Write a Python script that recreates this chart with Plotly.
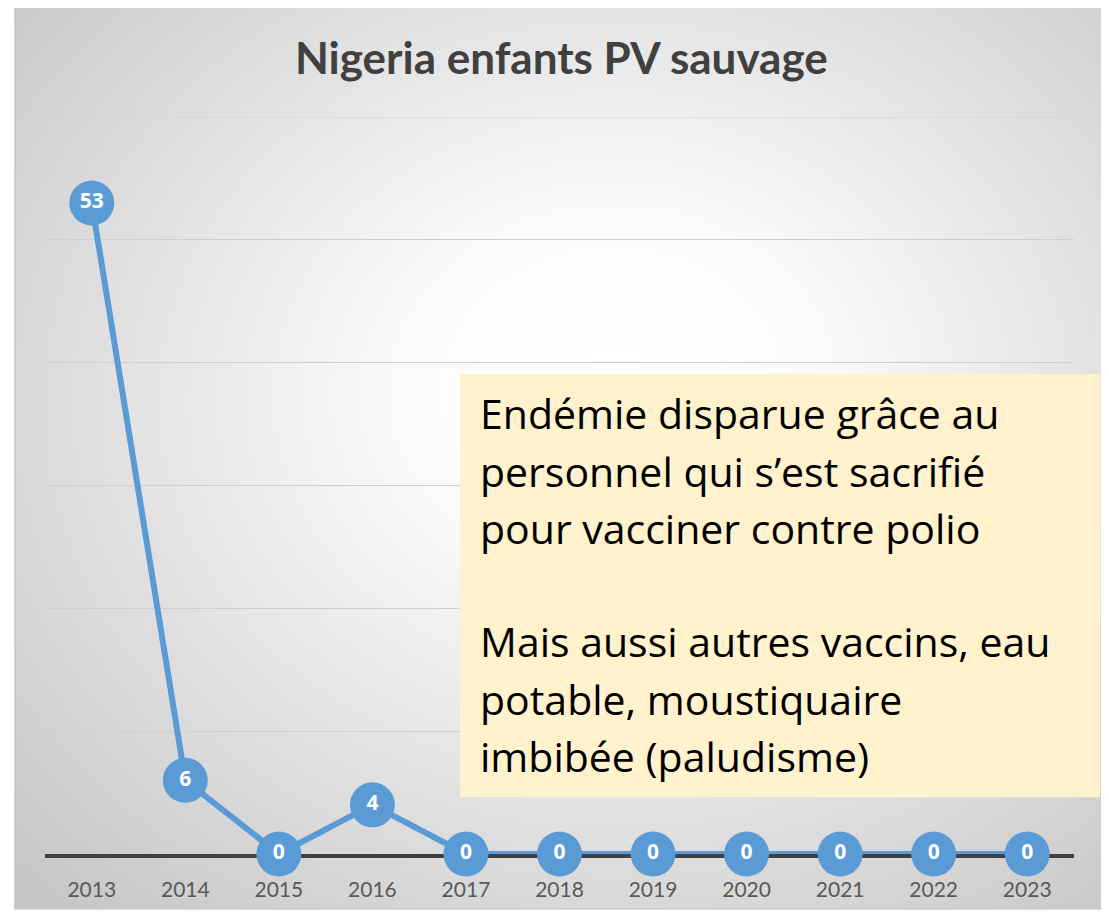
import base64
import plotly.graph_objects as go

years = ["2013", "2014", "2015", "2016", "2017", "2018", "2019", "2020", "2021", "2022", "2023"]
cases = [53, 6, 0, 4, 0, 0, 0, 0, 0, 0, 0]
title_text = "Nigeria enfants PV sauvage"
note_lines = [
    "Endémie disparue grâce au",
    "personnel qui s’est sacrifié",
    "pour vacciner contre polio",
    "Mais aussi autres vaccins, eau",
    "potable, moustiquaire",
    "imbibée (paludisme)",
]
note_baselines_px = [428, 486, 543, 657, 715, 772]

# page offset (browser body margin)
OX, OY = 8, 8
W, H = 1109 - OX, 913 - OY
L, R, T, B = 45 - OX, 1109 - 1074, 117 - OY, 913 - 857
PW = W - L - R
PH = H - T - B
Y_MAX = 60


def px_x(x):
    return (x - OX - L) / PW


def px_y(y):
    return (H - B - (y - OY)) / PH


svg = """<svg xmlns='http://www.w3.org/2000/svg' width='1000' height='1000' viewBox='0 0 1000 1000' preserveAspectRatio='none'>
<defs><radialGradient id='g' cx='0.55' cy='0.45' r='0.75' fx='0.55' fy='0.42'>
<stop offset='0' stop-color='#ffffff'/>
<stop offset='0.25' stop-color='#fbfbfb'/>
<stop offset='0.7' stop-color='#dbdbdb'/>
<stop offset='1' stop-color='#c6c6c6'/>
</radialGradient></defs>
<rect x='0' y='0' width='1000' height='1000' fill='url(#g)'/></svg>"""
src = "data:image/svg+xml;base64," + base64.b64encode(svg.encode()).decode()

fig = go.Figure()
fig.add_trace(go.Scatter(
    x=years, y=cases,
    mode="lines+markers+text",
    line=dict(color="#5B9BD5", width=6),
    marker=dict(size=45, color="#5B9BD5", line=dict(width=0)),
    text=[str(v) for v in cases],
    textposition="middle center",
    textfont=dict(family="Open Sans", size=21, color="white", weight="bold"),
    cliponaxis=False,
    hoverinfo="skip",
    showlegend=False,
))

cx0, cx1, cy0, cy1 = 15, 1104, 4, 912
fig.add_layout_image(dict(
    source=src, xref="paper", yref="paper",
    x=px_x(cx0), y=px_y(cy0), sizex=px_x(cx1) - px_x(cx0), sizey=px_y(cy0) - px_y(cy1),
    xanchor="left", yanchor="top", sizing="stretch", layer="below",
))

shapes = [
    dict(type="rect", xref="paper", yref="paper",
         x0=px_x(cx0), x1=px_x(cx1), y0=px_y(cy1), y1=px_y(cy0),
         line=dict(color="#c4c4c4", width=1.5), fillcolor="rgba(0,0,0,0)", layer="below"),
    # top gridline (at the upper edge of the value axis)
    dict(type="line", xref="paper", yref="y", x0=0, x1=1, y0=Y_MAX, y1=Y_MAX,
         line=dict(color="#cfcfcf", width=1), layer="below"),
    dict(type="rect", xref="paper", yref="paper",
         x0=px_x(460), x1=px_x(1100), y0=px_y(800), y1=px_y(375),
         line=dict(width=0), fillcolor="#FFF2CC", layer="above"),
]

annotations = [
    dict(text=title_text, xref="paper", yref="paper", x=px_x(561), y=px_y(57),
         xanchor="center", yanchor="middle", showarrow=False,
         font=dict(family="Lato", size=44, color="#404040", weight="bold")),
]
fs = 41
for line, base in zip(note_lines, note_baselines_px):
    annotations.append(dict(
        text=line, xref="paper", yref="paper", x=px_x(478), y=px_y(base - 0.33 * fs),
        xanchor="left", yanchor="middle", showarrow=False, align="left",
        font=dict(family="Open Sans", size=fs, color="black")))

fig.update_layout(
    width=W, height=H,
    margin=dict(l=L, r=R, t=T, b=B),
    paper_bgcolor="white", plot_bgcolor="rgba(0,0,0,0)",
    shapes=shapes, annotations=annotations,
    xaxis=dict(type="category", range=[-0.5, 10.5], showgrid=False, zeroline=False,
               showline=True, linecolor="#404040", linewidth=4, layer="below traces",
               ticks="", ticklabelstandoff=14,
               tickfont=dict(family="Lato", size=21, color="#595959")),
    yaxis=dict(range=[0, Y_MAX], dtick=10, showticklabels=False, showgrid=True,
               gridcolor="#cfcfcf", gridwidth=1, zeroline=False, showline=False,
               layer="below traces"),
)

fig.write_html("out.html")
